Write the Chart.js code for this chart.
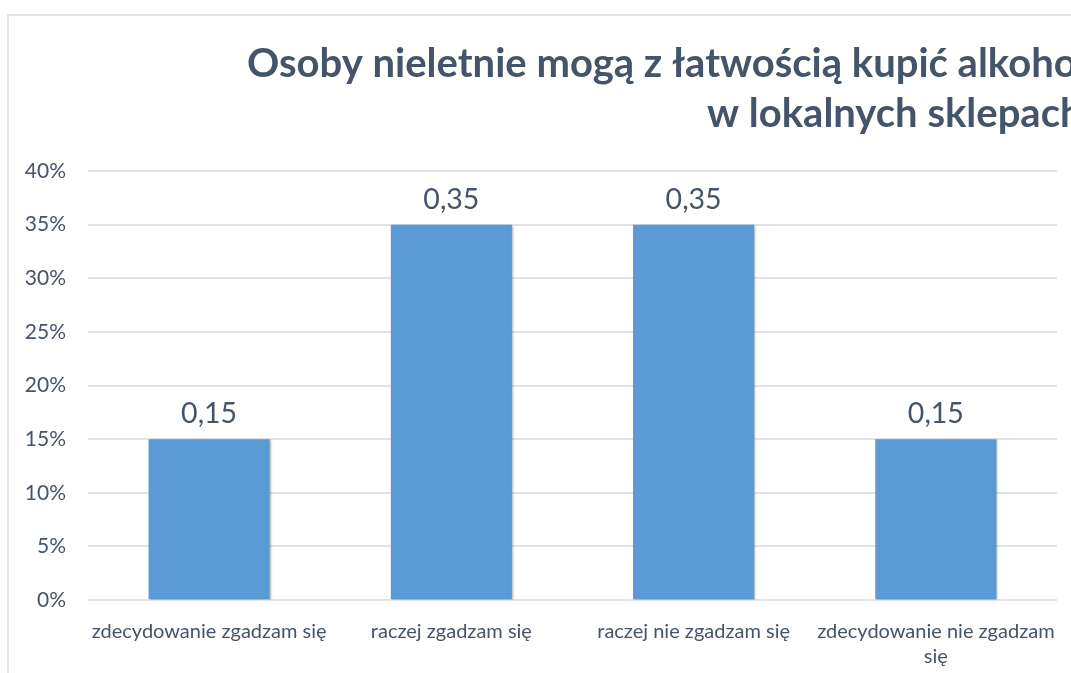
<!DOCTYPE html>
<html>
<head>
<meta charset="utf-8">
<script src="https://cdn.jsdelivr.net/npm/chart.js@4.4.0/dist/chart.umd.min.js"></script>
<style>
  html, body { margin: 0; padding: 0; background: #fff; overflow: hidden; }
  #frame { position: absolute; left: 7px; top: 14px; width: 1300px; height: 900px; border: 2px solid #e1e4e9; box-sizing: border-box; }
  #wrap { position: absolute; left: 0; top: 0; width: 1071px; height: 673px; }
</style>
</head>
<body>
<div id="frame"></div>
<div id="wrap"><canvas id="chart"></canvas></div>
<script>
var titleLines = ["Osoby nieletnie mogą z łatwością kupić alkohol", "w lokalnych sklepach"];
var categories = ["zdecydowanie zgadzam się", "raczej zgadzam się", "raczej nie zgadzam się", ["zdecydowanie nie zgadzam", "się"]];
var values = [0.15, 0.35, 0.35, 0.15];
var yMax = 0.4;
var yStep = 0.05;

var textColor = "#44546a";
var font = "Lato";

// title is wider than the frame, so draw it by hand and let it clip
var titlePlugin = {
    id: "clippedTitle",
    afterDraw: function(chart) {
        var ctx = chart.ctx;
        ctx.save();
        ctx.fillStyle = textColor;
        ctx.font = "bold 40px " + font;
        ctx.textAlign = "left";
        ctx.textBaseline = "alphabetic";
        ctx.fillText(titleLines[0], 247, 77);
        ctx.fillText(titleLines[1], 707, 127);
        ctx.restore();
    }
};

var labelPlugin = {
    id: "barLabels",
    afterDatasetsDraw: function(chart) {
        var ctx = chart.ctx;
        var meta = chart.getDatasetMeta(0);
        ctx.save();
        ctx.fillStyle = textColor;
        ctx.font = "28.5px " + font;
        ctx.textAlign = "center";
        ctx.textBaseline = "alphabetic";
        meta.data.forEach(function(bar, i) {
            ctx.fillText(values[i].toFixed(2).replace(".", ","), bar.x, bar.y - 16);
        });
        ctx.restore();
    }
};

var shadowPlugin = {
    id: "barShadow",
    beforeDatasetDraw: function(chart) {
        var ctx = chart.ctx;
        ctx.save();
        ctx.shadowColor = "rgba(0,0,0,0.3)";
        ctx.shadowBlur = 2;
        ctx.shadowOffsetX = 1;
        ctx.shadowOffsetY = 1;
    },
    afterDatasetDraw: function(chart) {
        chart.ctx.restore();
    }
};

var canvas = document.getElementById("chart");
var config = {
    type: "bar",
    data: {
        labels: categories,
        datasets: [{
            data: values,
            backgroundColor: "#5b9bd5",
            borderWidth: 0,
            barPercentage: 0.5,
            categoryPercentage: 1.0
        }]
    },
    options: {
        responsive: true,
        maintainAspectRatio: false,
        animation: false,
        layout: { padding: { top: 171, right: 14, left: 0, bottom: 0 } },
        plugins: {
            legend: { display: false },
            tooltip: { enabled: false },
            title: { display: false }
        },
        scales: {
            x: {
                grid: { display: false },
                border: { display: false },
                ticks: {
                    color: textColor,
                    font: { family: font, size: 20, lineHeight: 1.25 },
                    padding: 11,
                    maxRotation: 0,
                    autoSkip: false
                },
                afterFit: function(scale) { scale.height = 73; }
            },
            y: {
                min: 0,
                max: yMax,
                border: { display: false },
                grid: { color: "#dfe3e8", lineWidth: 2, drawTicks: false },
                ticks: {
                    stepSize: yStep,
                    color: textColor,
                    font: { family: font, size: 21 },
                    padding: 22,
                    callback: function(v) { return Math.round(v * 100) + "%"; }
                },
                afterFit: function(scale) { scale.width = 88; }
            }
        }
    },
    plugins: [shadowPlugin, labelPlugin, titlePlugin]
};

var barchart = new Chart(canvas, config);
</script>
</body>
</html>
